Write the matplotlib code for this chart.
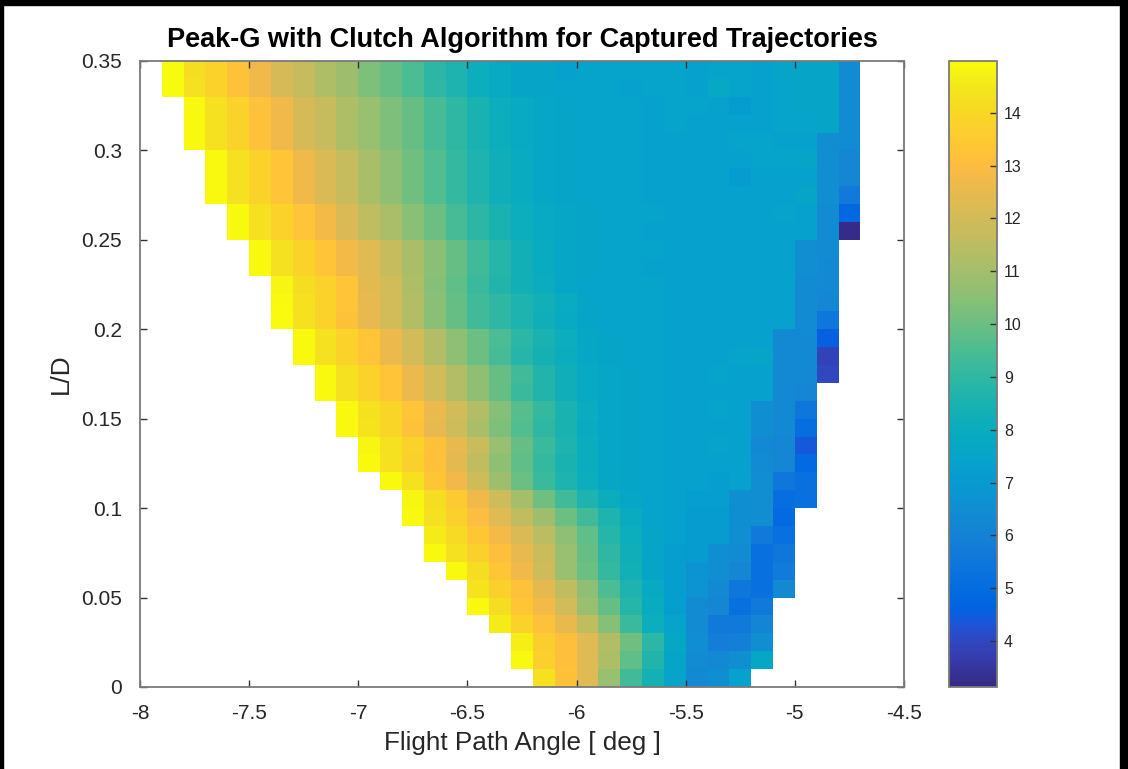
import numpy as np
import matplotlib
matplotlib.use("Agg")
import matplotlib.pyplot as plt
from matplotlib.colors import LinearSegmentedColormap
from matplotlib.patches import Rectangle

plt.rcParams['font.family'] = ['Liberation Sans', 'DejaVu Sans']
plt.rcParams['axes.unicode_minus'] = False

# ---------------- data ----------------
# grid: flight path angle cells of 0.1 deg starting at -7.9, L/D rows of 0.01 from 0
fpa_first_edge = -7.9
fpa_step = 0.1
n_cols = 32
ld_step = 0.01
n_rows = 35

# first valid column index of every L/D row (row 0 = 0.00-0.01)
first_col = [17, 16, 16, 15, 14, 14, 13, 12, 12, 11, 11, 10, 9, 9, 8, 8, 7, 7, 6, 6,
             5, 5, 5, 4, 4, 3, 3, 2, 2, 2, 1, 1, 1, 0, 0]

# peak g values per L/D row, from first_col onward
ld_00 = [14.3, 13.2, 12.3, 10.8, 9.3, 8.4, 7.45, 6.3, 6.6, 7.3]
ld_01 = [14.9, 13.7, 13.1, 12.3, 11.2, 9.8, 8.7, 7.55, 6.4, 6.3, 6.6, 7.7]
ld_02 = [14.7, 13.6, 13.1, 12.3, 11.3, 10.1, 8.9, 7.7, 6.6, 5.8, 5.9, 6.6]
ld_03 = [14.6, 13.8, 13.2, 12.5, 11.6, 10.4, 9.2, 8.1, 7.45, 6.4, 5.6, 5.6, 6.1]
ld_04 = [14.9, 14.2, 13.4, 12.8, 12.0, 10.8, 9.9, 8.8, 7.9, 7.2, 6.4, 6.2, 5.2, 5.6]
ld_05 = [14.4, 13.7, 13.2, 12.4, 11.6, 10.6, 9.5, 8.6, 7.8, 7.2, 6.7, 6.3, 5.5, 5.2, 6.3]
ld_06 = [14.9, 14.2, 13.4, 12.7, 11.9, 10.8, 10.0, 9.1, 8.3, 7.55, 7.2, 6.7, 6.5, 6.2, 5.2, 5.7]
ld_07 = [14.9, 14.3, 13.7, 13.1, 12.5, 11.8, 10.8, 9.9, 9.0, 8.2, 7.55, 7.2, 7.1, 6.6, 6.4, 5.2, 5.5]
ld_08 = [14.6, 14.1, 13.4, 12.8, 12.2, 11.5, 10.6, 9.8, 8.8, 8.1, 7.55, 7.3, 7.1, 7.1, 6.5, 5.6, 5.2]
ld_09 = [14.9, 14.3, 13.7, 13.0, 12.3, 11.6, 10.9, 10.0, 9.3, 8.6, 7.9, 7.45, 7.3, 7.1, 7.1, 6.6, 6.5, 4.9]
ld_10 = [14.8, 14.2, 13.5, 12.7, 11.9, 11.0, 10.1, 9.3, 8.6, 8.0, 7.65, 7.45, 7.3, 7.2, 7.2, 6.6, 6.5, 5.1, 5.2]
ld_11 = [14.9, 14.3, 13.4, 12.7, 11.9, 10.9, 10.0, 9.2, 8.6, 8.1, 7.7, 7.55, 7.4, 7.3, 7.3, 7.2, 7.3, 6.5, 5.5, 5.2]
ld_12 = [14.9, 14.3, 13.7, 13.2, 12.4, 11.6, 10.6, 9.8, 9.1, 8.5, 8.0, 7.6, 7.55, 7.4, 7.3, 7.3, 7.3, 7.3, 6.4, 6.2, 4.9]
ld_13 = [14.8, 14.3, 13.8, 13.2, 12.5, 11.8, 10.8, 9.9, 9.2, 8.6, 8.0, 7.6, 7.55, 7.4, 7.3, 7.3, 7.4, 7.3, 6.3, 6.2, 4.4]
ld_14 = [14.9, 14.4, 13.9, 13.2, 12.5, 11.9, 11.1, 10.3, 9.6, 9.0, 8.5, 7.9, 7.65, 7.55, 7.4, 7.3, 7.3, 7.3, 7.3, 6.6, 6.3, 5.1]
ld_15 = [14.9, 14.3, 13.9, 13.3, 12.6, 12.0, 11.3, 10.4, 9.7, 9.1, 8.5, 8.0, 7.6, 7.55, 7.4, 7.3, 7.3, 7.4, 7.3, 6.6, 6.3, 5.5]
ld_16 = [14.9, 14.3, 13.8, 13.3, 12.6, 12.0, 11.3, 10.6, 9.9, 9.2, 8.7, 8.2, 7.8, 7.65, 7.55, 7.4, 7.3, 7.3, 7.3, 7.3, 7.3, 6.3, 6.2]
ld_17 = [14.9, 14.3, 13.8, 13.3, 12.6, 12.0, 11.3, 10.6, 9.9, 9.3, 8.7, 8.2, 7.8, 7.65, 7.55, 7.4, 7.3, 7.3, 7.4, 7.3, 7.3, 6.3, 6.3, 4.0]
ld_18 = [14.9, 14.3, 13.8, 13.3, 12.6, 12.0, 11.3, 10.6, 10.0, 9.4, 8.8, 8.4, 8.0, 7.6, 7.55, 7.45, 7.4, 7.3, 7.3, 7.3, 7.4, 7.55, 6.3, 6.3, 3.9]
ld_19 = [14.9, 14.3, 13.8, 13.3, 12.6, 12.0, 11.3, 10.6, 10.0, 9.5, 8.9, 8.5, 8.1, 7.7, 7.55, 7.45, 7.4, 7.3, 7.3, 7.3, 7.3, 7.3, 6.3, 6.3, 4.6]
ld_20 = [15.0, 14.3, 13.8, 13.2, 12.5, 12.0, 11.3, 10.5, 9.9, 9.3, 9.0, 8.6, 8.2, 7.8, 7.55, 7.45, 7.4, 7.4, 7.3, 7.3, 7.3, 7.3, 7.3, 7.3, 6.4, 5.5]
ld_21 = [14.9, 14.3, 13.8, 13.3, 12.5, 12.0, 11.3, 10.5, 9.9, 9.3, 9.0, 8.6, 8.3, 7.9, 7.55, 7.45, 7.4, 7.4, 7.3, 7.3, 7.3, 7.3, 7.3, 7.3, 6.4, 6.2]
ld_22 = [14.8, 14.2, 13.8, 13.3, 12.4, 12.0, 11.2, 10.4, 9.8, 9.2, 8.7, 8.3, 8.0, 7.6, 7.45, 7.45, 7.4, 7.4, 7.3, 7.3, 7.3, 7.3, 7.3, 7.3, 6.4, 6.3]
ld_23 = [14.9, 14.3, 13.8, 13.3, 12.8, 12.3, 11.7, 11.1, 10.5, 9.9, 9.3, 8.8, 8.3, 7.9, 7.6, 7.55, 7.45, 7.4, 7.3, 7.3, 7.3, 7.3, 7.3, 7.3, 7.3, 6.5, 6.3]
ld_24 = [14.9, 14.3, 13.8, 13.3, 12.8, 12.3, 11.7, 11.1, 10.5, 9.9, 9.3, 8.8, 8.3, 7.9, 7.6, 7.55, 7.45, 7.4, 7.4, 7.3, 7.3, 7.3, 7.3, 7.3, 7.3, 6.5, 6.4]
ld_25 = [14.9, 14.3, 13.8, 13.3, 12.8, 12.2, 11.6, 11.1, 10.5, 10.0, 9.4, 8.9, 8.5, 8.1, 7.8, 7.65, 7.55, 7.45, 7.4, 7.3, 7.3, 7.3, 7.3, 7.3, 7.3, 7.3, 7.3, 6.4, 3.2]
ld_26 = [14.9, 14.3, 13.8, 13.3, 12.8, 12.2, 11.6, 11.1, 10.5, 10.0, 9.4, 8.9, 8.5, 8.1, 7.8, 7.65, 7.55, 7.45, 7.4, 7.4, 7.3, 7.3, 7.3, 7.3, 7.3, 7.45, 7.3, 6.4, 4.8]
ld_27 = [14.9, 14.3, 13.8, 13.3, 12.7, 12.2, 11.7, 11.1, 10.6, 10.1, 9.6, 9.1, 8.6, 8.2, 7.9, 7.6, 7.55, 7.45, 7.4, 7.4, 7.3, 7.3, 7.3, 7.3, 7.3, 7.3, 7.3, 7.55, 6.5, 5.6]
ld_28 = [14.9, 14.3, 13.8, 13.3, 12.7, 12.2, 11.7, 11.1, 10.6, 10.1, 9.6, 9.1, 8.6, 8.2, 7.9, 7.6, 7.55, 7.45, 7.4, 7.4, 7.3, 7.3, 7.3, 7.3, 7.1, 7.3, 7.3, 7.3, 6.5, 6.2]
ld_29 = [14.9, 14.3, 13.8, 13.3, 12.7, 12.2, 11.7, 11.1, 10.6, 10.1, 9.6, 9.1, 8.6, 8.2, 7.9, 7.6, 7.55, 7.45, 7.4, 7.4, 7.3, 7.3, 7.3, 7.3, 7.3, 7.45, 7.45, 7.55, 6.5, 6.2]
ld_30 = [14.9, 14.3, 13.8, 13.2, 12.7, 12.1, 11.7, 11.2, 10.8, 10.3, 9.9, 9.4, 9.0, 8.5, 8.1, 7.8, 7.65, 7.55, 7.45, 7.4, 7.4, 7.3, 7.3, 7.3, 7.3, 7.45, 7.45, 7.3, 7.3, 6.5, 6.4]
ld_31 = [14.9, 14.3, 13.8, 13.2, 12.7, 12.1, 11.7, 11.2, 10.8, 10.3, 9.9, 9.4, 9.0, 8.5, 8.1, 7.8, 7.65, 7.55, 7.45, 7.4, 7.4, 7.3, 7.4, 7.3, 7.3, 7.3, 7.3, 7.4, 7.45, 7.55, 6.4]
ld_32 = [14.9, 14.3, 13.8, 13.2, 12.7, 12.1, 11.7, 11.2, 10.8, 10.3, 9.9, 9.4, 9.0, 8.5, 8.1, 7.8, 7.65, 7.55, 7.45, 7.4, 7.45, 7.3, 7.4, 7.45, 7.3, 7.1, 7.3, 7.45, 7.55, 7.55, 6.4]
ld_33 = [15.0, 14.3, 13.8, 13.2, 12.7, 12.1, 11.7, 11.2, 10.9, 10.3, 9.9, 9.5, 9.0, 8.6, 8.1, 7.8, 7.55, 7.55, 7.45, 7.4, 7.45, 7.3, 7.4, 7.45, 7.3, 7.75, 7.4, 7.3, 7.45, 7.55, 7.55, 6.4]
ld_34 = [15.0, 14.2, 13.8, 13.2, 12.7, 12.1, 11.7, 11.2, 10.9, 10.3, 9.9, 9.5, 8.9, 8.6, 8.1, 7.8, 7.55, 7.55, 7.3, 7.45, 7.45, 7.45, 7.45, 7.45, 7.3, 7.45, 7.45, 7.3, 7.55, 7.55, 7.55, 6.4]

rows = [ld_00, ld_01, ld_02, ld_03, ld_04, ld_05, ld_06, ld_07, ld_08, ld_09,
        ld_10, ld_11, ld_12, ld_13, ld_14, ld_15, ld_16, ld_17, ld_18, ld_19,
        ld_20, ld_21, ld_22, ld_23, ld_24, ld_25, ld_26, ld_27, ld_28, ld_29,
        ld_30, ld_31, ld_32, ld_33, ld_34]

x_ticks = [-8, -7.5, -7, -6.5, -6, -5.5, -5, -4.5]
x_tick_labels = ['-8', '-7.5', '-7', '-6.5', '-6', '-5.5', '-5', '-4.5']
y_ticks = [0, 0.05, 0.1, 0.15, 0.2, 0.25, 0.3, 0.35]
y_tick_labels = ['0', '0.05', '0.1', '0.15', '0.2', '0.25', '0.3', '0.35']
cbar_ticks = [4, 5, 6, 7, 8, 9, 10, 11, 12, 13, 14]
clim = (3.13, 14.98)

# ---------------- build grid ----------------
Z = np.full((n_rows, n_cols), np.nan)
for r, vals in enumerate(rows):
    s = first_col[r]
    Z[r, s:s + len(vals)] = vals
Z = np.ma.masked_invalid(Z)

x_edges = fpa_first_edge + fpa_step * np.arange(n_cols + 1)
y_edges = ld_step * np.arange(n_rows + 1)

# MATLAB parula colormap
_parula = [[0.2081, 0.1663, 0.5292], [0.2116, 0.1898, 0.5777], [0.2123, 0.2138, 0.6270],
    [0.2081, 0.2386, 0.6771], [0.1959, 0.2645, 0.7279], [0.1707, 0.2919, 0.7792],
    [0.1253, 0.3242, 0.8303], [0.0591, 0.3598, 0.8683], [0.0117, 0.3875, 0.8820],
    [0.0060, 0.4086, 0.8828], [0.0165, 0.4266, 0.8786], [0.0329, 0.4430, 0.8720],
    [0.0498, 0.4586, 0.8641], [0.0629, 0.4737, 0.8554], [0.0723, 0.4887, 0.8467],
    [0.0779, 0.5040, 0.8384], [0.0793, 0.5200, 0.8312], [0.0749, 0.5375, 0.8263],
    [0.0641, 0.5570, 0.8240], [0.0488, 0.5772, 0.8228], [0.0343, 0.5966, 0.8199],
    [0.0265, 0.6137, 0.8135], [0.0239, 0.6287, 0.8038], [0.0231, 0.6418, 0.7913],
    [0.0228, 0.6535, 0.7768], [0.0267, 0.6642, 0.7607], [0.0384, 0.6743, 0.7436],
    [0.0590, 0.6838, 0.7254], [0.0843, 0.6928, 0.7062], [0.1133, 0.7015, 0.6859],
    [0.1453, 0.7098, 0.6646], [0.1801, 0.7177, 0.6424], [0.2178, 0.7250, 0.6193],
    [0.2586, 0.7317, 0.5954], [0.3022, 0.7376, 0.5712], [0.3482, 0.7424, 0.5473],
    [0.3953, 0.7459, 0.5244], [0.4420, 0.7481, 0.5033], [0.4871, 0.7491, 0.4840],
    [0.5300, 0.7491, 0.4661], [0.5709, 0.7485, 0.4494], [0.6099, 0.7473, 0.4337],
    [0.6473, 0.7456, 0.4188], [0.6834, 0.7435, 0.4044], [0.7184, 0.7411, 0.3905],
    [0.7525, 0.7384, 0.3768], [0.7858, 0.7356, 0.3633], [0.8185, 0.7327, 0.3498],
    [0.8507, 0.7299, 0.3360], [0.8824, 0.7274, 0.3217], [0.9139, 0.7258, 0.3063],
    [0.9450, 0.7261, 0.2886], [0.9739, 0.7314, 0.2666], [0.9938, 0.7455, 0.2403],
    [0.9990, 0.7653, 0.2164], [0.9955, 0.7861, 0.1967], [0.9880, 0.8066, 0.1794],
    [0.9789, 0.8271, 0.1633], [0.9697, 0.8481, 0.1475], [0.9626, 0.8705, 0.1309],
    [0.9589, 0.8949, 0.1132], [0.9598, 0.9218, 0.0948], [0.9661, 0.9514, 0.0755],
    [0.9763, 0.9831, 0.0538]]
parula = LinearSegmentedColormap.from_list('parula', _parula, N=256)

# ---------------- figure ----------------
W, H = 1128, 769
fig = plt.figure(figsize=(W / 100, H / 100), dpi=100, facecolor='white')

ax_l, ax_r, ax_t, ax_b = 140, 904, 61, 687
ax = fig.add_axes([ax_l / W, (H - ax_b) / H, (ax_r - ax_l) / W, (ax_b - ax_t) / H])
mesh = ax.pcolormesh(x_edges, y_edges, Z, cmap=parula, vmin=clim[0], vmax=clim[1],
                     shading='flat', edgecolors='none', antialiased=False)
ax.set_xlim(-8, -4.5)
ax.set_ylim(0, 0.35)
ax.set_xticks(x_ticks)
ax.set_xticklabels(x_tick_labels)
ax.set_yticks(y_ticks)
ax.set_yticklabels(y_tick_labels)
frame_col = '#7a7a7a'
for sp in ax.spines.values():
    sp.set_color(frame_col)
    sp.set_linewidth(1.3)
ax.tick_params(direction='in', length=5, width=1.0, color='#333333',
               top=True, right=True, labelsize=15, labelcolor='#262626')
ax.tick_params(axis='y', pad=13)
ax.tick_params(axis='x', pad=12)
ax.set_xlabel('Flight Path Angle [ deg ]', fontsize=18.8, color='#262626', labelpad=6)
ax.set_ylabel('L/D', fontsize=18.8, color='#262626', labelpad=6)
ax.set_title('Peak-G with Clutch Algorithm for Captured Trajectories',
             fontsize=19.5, fontweight='bold', color='#000000', pad=10)

cb_l, cb_r = 949, 997
cax = fig.add_axes([cb_l / W, (H - ax_b) / H, (cb_r - cb_l) / W, (ax_b - ax_t) / H])
cb = fig.colorbar(mesh, cax=cax, ticks=cbar_ticks)
cb.outline.set_edgecolor(frame_col)
cb.outline.set_linewidth(1.3)
cax.tick_params(direction='in', length=5, width=1.0, color='#333333',
                labelsize=11.5, labelcolor='#262626', pad=5)

# screenshot frame (black border)
fig.patches.append(Rectangle((0, 1 - 5 / H), 1, 5 / H, transform=fig.transFigure,
                             color='black', zorder=10))
fig.patches.append(Rectangle((1 - 8 / W, 0), 8 / W, 1, transform=fig.transFigure,
                             color='black', zorder=10))
fig.patches.append(Rectangle((0, 0), 3 / W, 1, transform=fig.transFigure,
                             color='black', zorder=10))

fig.savefig('out.png', dpi=100, facecolor='white')
